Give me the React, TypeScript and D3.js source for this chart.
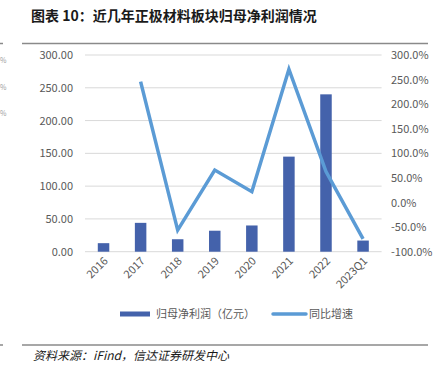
import React from "react";
import * as d3 from "d3";

const categories = ["2016", "2017", "2018", "2019", "2020", "2021", "2022", "2023Q1"];
const profit = [13, 44, 19, 32, 40, 145, 240, 17];
const growth: (number | null)[] = [null, 246, -56, 66, 22, 271, 63, -74];
const leftTicks = [0, 50, 100, 150, 200, 250, 300];
const rightTicks = [-100, -50, 0, 50, 100, 150, 200, 250, 300];
const title = "图表 10：近几年正极材料板块归母净利润情况";
const source = "资料来源：iFind，信达证券研发中心";
const legendBar = "归母净利润（亿元）";
const legendLine = "同比增速";

const W = 443, H = 377;
const plotL = 85, plotR = 381.6, plotT = 55, plotB = 251.7;
const barColor = "#4462AB";
const lineColor = "#5B9BD5";
const font = "'Noto Sans CJK SC', 'Noto Sans', sans-serif";

export default function App() {
  const x = d3.scaleBand().domain(categories).range([plotL, plotR]).paddingInner(0.69).paddingOuter(0.345);
  const yL = d3.scaleLinear().domain([0, 300]).range([plotB, plotT]);
  const yR = d3.scaleLinear().domain([-100, 300]).range([plotB, plotT]);
  const center = (c: string) => (x(c) as number) + x.bandwidth() / 2;
  const line = d3.line<{ c: string; v: number | null }>()
    .defined(d => d.v !== null)
    .x(d => center(d.c))
    .y(d => yR(d.v as number));
  const lineData = categories.map((c, i) => ({ c, v: growth[i] }));

  return (
    <svg width={W} height={H} style={{ position: "absolute", left: 0, top: 0, background: "#fff" }}>
      <text x={31} y={21} fontFamily={font} fontSize={14} fontWeight="bold" fill="#1a1a1a">{title}</text>
      <line x1={22} x2={428} y1={43.5} y2={43.5} stroke="#8a8a8a" strokeWidth={1.5} />
      <line x1={0} x2={3} y1={43.5} y2={43.5} stroke="#8a8a8a" strokeWidth={1.5} />
      {[60, 87, 113].map((yy, i) => (
        <text key={i} x={0} y={yy + 3} fontFamily={font} fontSize={7} fill="#a0a0a0">%</text>
      ))}
      {leftTicks.map(t => (
        <line key={t} x1={plotL} x2={plotR} y1={yL(t)} y2={yL(t)} stroke="#d9d9d9" strokeWidth={1} />
      ))}
      {leftTicks.map(t => (
        <text key={t} x={73} y={yL(t) + 4} textAnchor="end" fontFamily={font} fontSize={11} fill="#595959">{t.toFixed(2)}</text>
      ))}
      {rightTicks.map(t => (
        <text key={t} x={391} y={yR(t) + 4} textAnchor="start" fontFamily={font} fontSize={11} fill="#595959">{t.toFixed(1) + "%"}</text>
      ))}
      {categories.map((c, i) => (
        <rect key={c} x={x(c)} y={yL(profit[i])} width={x.bandwidth()} height={plotB - yL(profit[i])} fill={barColor} />
      ))}
      <path d={line(lineData) || ""} fill="none" stroke={lineColor} strokeWidth={3.5} strokeLinejoin="miter" />
      {categories.map(c => (
        <text key={c} transform={`translate(${center(c) + 5},${plotB + 10}) rotate(-45)`} textAnchor="end" fontFamily={font} fontSize={11} fill="#595959">{c}</text>
      ))}
      <rect x={120} y={311.5} width={30} height={5} fill={barColor} />
      <text x={156} y={318} fontFamily={font} fontSize={11} fill="#595959">{legendBar}</text>
      <line x1={273} x2={306} y1={314} y2={314} stroke={lineColor} strokeWidth={3.5} strokeLinecap="round" />
      <text x={309} y={318} fontFamily={font} fontSize={11} fill="#595959">{legendLine}</text>
      <line x1={22} x2={428} y1={345} y2={345} stroke="#8a8a8a" strokeWidth={1.5} />
      <line x1={0} x2={3} y1={345} y2={345} stroke="#8a8a8a" strokeWidth={1.5} />
      <text x={33} y={360} fontFamily={font} fontSize={12} fontStyle="italic" fill="#1a1a1a">{source}</text>
    </svg>
  );
}
